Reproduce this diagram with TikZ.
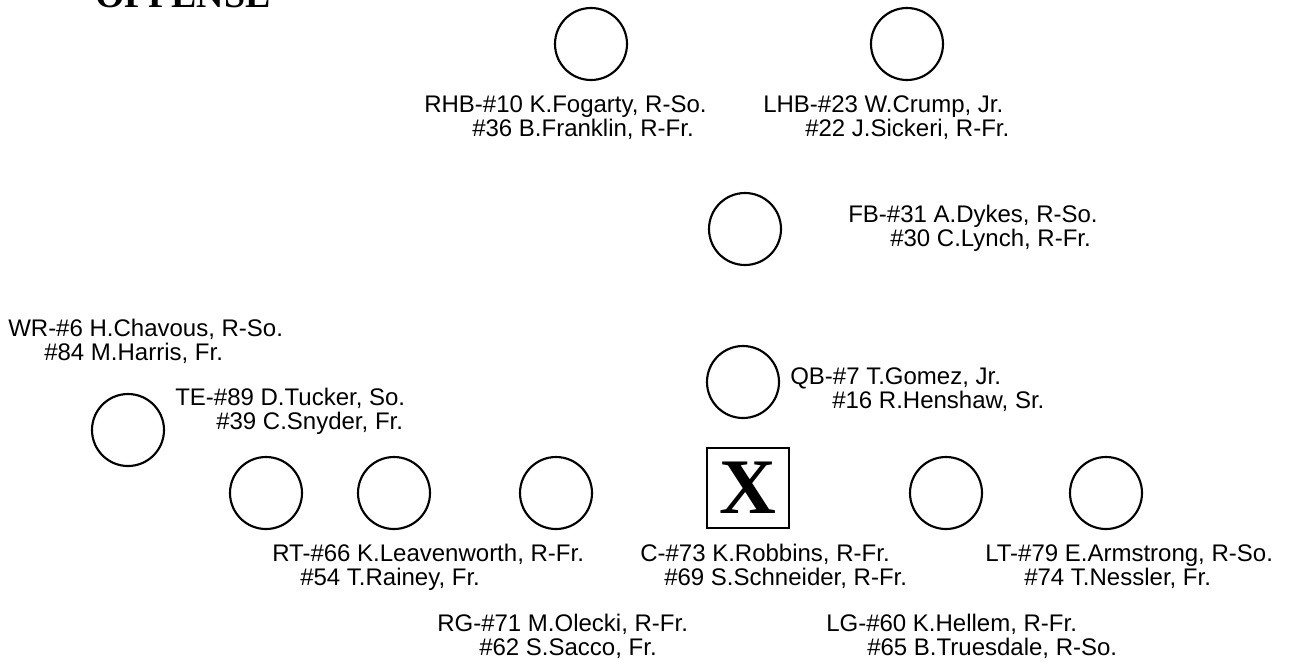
\documentclass[tikz,border=0pt]{standalone}
\usepackage{fontspec}
\setmainfont{Liberation Sans}
\newfontfamily\headfont{Liberation Serif}
\usetikzlibrary{positioning}

\tikzset{
  player/.style={draw, circle, line width=1.6pt, minimum size=54pt, inner sep=0pt},
  center/.style={draw, rectangle, line width=1.4pt, minimum width=62pt, minimum height=60pt, inner sep=0pt,
    font=\headfont\bfseries\fontsize{59}{59}\selectfont},
  lbl/.style={anchor=base west, inner sep=0pt, font=\fontsize{18}{20}\selectfont}
}

\begin{document}
\begin{tikzpicture}[x=0.75pt,y=-0.75pt]
  \useasboundingbox (0,0) rectangle (1291,664);
  \node[anchor=base west, inner sep=0pt, font=\headfont\bfseries\fontsize{28.5}{30}\selectfont] (title) at (95,7) {OFFENSE};

  % backs
  \node[player] (rhb) at (591,44) {};
  \node[player] (lhb) at (907,44) {};
  \node[player] (fb) at (745,229) {};
  \node[player] (qb) at (743,382) {};
  \node[player] (wr) at (128,430) {};

  % line
  \node[player] (rt) at (266,493) {};
  \node[player] (te) at (394,493) {};
  \node[player] (rg) at (556,493) {};
  \node[center] (c) at (748,488) {X};
  \node[player] (lg) at (946,493) {};
  \node[player] (lt) at (1106,493) {};

  % names
  \node[lbl] (rhbname) at (424,112) {RHB-\#10 K.Fogarty, R-So.};
  \node[lbl] (rhbsub) at (472,136) {\#36 B.Franklin, R-Fr.};
  \node[lbl] (lhbname) at (763,112) {LHB-\#23 W.Crump, Jr.};
  \node[lbl] (lhbsub) at (805,136) {\#22 J.Sickeri, R-Fr.};
  \node[lbl] (fbname) at (848,222) {FB-\#31 A.Dykes, R-So.};
  \node[lbl] (fbsub) at (890,246) {\#30 C.Lynch, R-Fr.};
  \node[lbl] (wrname) at (8,336) {WR-\#6 H.Chavous, R-So.};
  \node[lbl] (wrsub) at (44,360) {\#84 M.Harris, Fr.};
  \node[lbl] (qbname) at (790,384) {QB-\#7 T.Gomez, Jr.};
  \node[lbl] (qbsub) at (832,408) {\#16 R.Henshaw, Sr.};
  \node[lbl] (tename) at (175,405) {TE-\#89 D.Tucker, So.};
  \node[lbl] (tesub) at (216,429) {\#39 C.Snyder, Fr.};
  \node[lbl] (rtname) at (272,561) {RT-\#66 K.Leavenworth, R-Fr.};
  \node[lbl] (rtsub) at (300,585) {\#54 T.Rainey, Fr.};
  \node[lbl] (cname) at (640,561) {C-\#73 K.Robbins, R-Fr.};
  \node[lbl] (csub) at (664,585) {\#69 S.Schneider, R-Fr.};
  \node[lbl] (ltname) at (985,561) {LT-\#79 E.Armstrong, R-So.};
  \node[lbl] (ltsub) at (1024,585) {\#74 T.Nessler, Fr.};
  \node[lbl] (rgname) at (437,631) {RG-\#71 M.Olecki, R-Fr.};
  \node[lbl] (rgsub) at (479,655) {\#62 S.Sacco, Fr.};
  \node[lbl] (lgname) at (826,631) {LG-\#60 K.Hellem, R-Fr.};
  \node[lbl] (lgsub) at (867,655) {\#65 B.Truesdale, R-So.};
\end{tikzpicture}
\end{document}
